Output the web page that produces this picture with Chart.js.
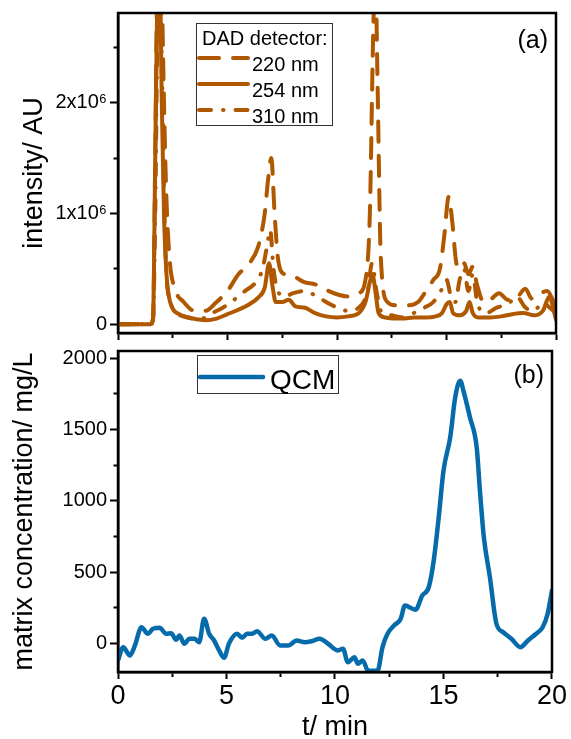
<!DOCTYPE html>
<html>
<head>
<meta charset="utf-8">
<script src="https://cdn.jsdelivr.net/npm/chart.js@4.4.1/dist/chart.umd.min.js"></script>
<style>
  html, body { margin: 0; padding: 0; background: #fff; }
  #wrap { position: relative; width: 571px; height: 739px; }
  .panel { position: absolute; left: 0; width: 571px; }
  #top { top: 0; height: 346px; }
  #bottom { top: 338px; height: 401px; }
</style>
</head>
<body>
<div id="wrap">
  <div class="panel" id="top"><canvas id="dadChart"></canvas></div>
  <div class="panel" id="bottom"><canvas id="qcmChart"></canvas></div>
</div>
<script>
// DAD traces, intensity in units of 10^6 AU
const t220 = [0, 1.5, 1.6, 1.7, 1.8, 1.9, 2.0, 2.1, 2.2, 2.35, 2.6, 3.0, 3.5, 4.0, 4.5, 5.0, 5.5, 6.0, 6.4, 6.7,
  6.85, 7.0, 7.15, 7.3, 7.6, 8.0, 8.5, 9.0, 9.5, 10.0, 10.5, 11.0, 11.3, 11.5, 11.65, 11.75, 11.85, 12.0, 12.3, 12.7,
  13.2, 13.7, 14.0, 14.4, 14.7, 14.9, 15.1, 15.25, 15.45, 15.6, 15.8, 16.0, 16.2, 16.4, 16.7, 17.0, 17.4, 17.8, 18.1, 18.6,
  18.9, 19.3, 19.6, 19.85, 20];
const dad220 = [0, 0, 0.05, 1.5, 3.2, 3.5, 3.0, 2.0, 1.2, 0.6, 0.32, 0.2, 0.12, 0.12, 0.2, 0.3, 0.45, 0.55, 0.7, 1.0,
  1.3, 1.5, 1.0, 0.6, 0.45, 0.43, 0.38, 0.36, 0.31, 0.27, 0.25, 0.28, 0.4, 1.0, 2.6, 3.2, 2.2, 0.6, 0.2, 0.17,
  0.17, 0.2, 0.28, 0.4, 0.5, 0.8, 1.15, 0.95, 0.55, 0.5, 0.55, 0.45, 0.52, 0.35, 0.2, 0.22, 0.28, 0.22, 0.22, 0.32,
  0.23, 0.28, 0.3, 0.22, 0.15];

const t254 = [0, 1.5, 1.6, 1.7, 1.8, 1.9, 2.0, 2.1, 2.2, 2.3, 2.5, 2.8, 3.2, 3.6, 4.0, 4.5, 5.0, 5.5, 6.0, 6.4,
  6.7, 6.9, 7.05, 7.2, 7.5, 7.8, 8.1, 8.5, 9.0, 9.5, 10, 10.5, 11, 11.3, 11.5, 11.62, 11.75, 11.9, 12.2, 12.6,
  13, 13.5, 14, 14.5, 14.8, 15.0, 15.15, 15.3, 15.6, 15.9, 16.05, 16.2, 16.5, 17, 17.5, 18, 18.5, 19, 19.4, 19.7,
  19.9, 20];
const dad254 = [0, 0, 0.05, 1.5, 3.0, 3.2, 2.0, 1.0, 0.5, 0.28, 0.14, 0.09, 0.06, 0.045, 0.035, 0.05, 0.09, 0.13, 0.18, 0.24,
  0.33, 0.55, 0.35, 0.2, 0.2, 0.22, 0.16, 0.15, 0.1, 0.07, 0.06, 0.07, 0.1, 0.2, 0.38, 0.45, 0.3, 0.1, 0.06, 0.05,
  0.05, 0.06, 0.06, 0.07, 0.1, 0.18, 0.2, 0.1, 0.08, 0.12, 0.2, 0.1, 0.06, 0.06, 0.07, 0.09, 0.1, 0.08, 0.12, 0.25,
  0.12, 0.04];

const t310 = [0, 1.5, 1.6, 1.7, 1.8, 1.9, 2.0, 2.1, 2.2, 2.4, 2.7, 3.2, 3.8, 4.3, 4.8, 5.3, 5.8, 6.3, 6.6, 6.8,
  6.95, 7.1, 7.3, 7.6, 8.0, 8.5, 9.0, 9.5, 10, 10.5, 11.0, 11.4, 11.6, 11.8, 12.0, 12.5, 13.0, 13.5, 14, 14.4,
  14.8, 15.0, 15.2, 15.4, 15.6, 15.8, 16.0, 16.2, 16.4, 16.8, 17.3, 17.8, 18.2, 18.6, 19.0, 19.4, 19.7, 20];
const dad310 = [0, 0, 0.05, 1.0, 2.6, 3.0, 2.4, 1.2, 0.5, 0.2, 0.1, 0.06, 0.05, 0.1, 0.15, 0.22, 0.3, 0.38, 0.5, 0.7,
  0.85, 0.5, 0.3, 0.25, 0.28, 0.3, 0.26, 0.2, 0.15, 0.12, 0.15, 0.3, 0.55, 0.3, 0.12, 0.08, 0.06, 0.1, 0.15, 0.2,
  0.32, 0.4, 0.25, 0.2, 0.4, 0.5, 0.3, 0.45, 0.2, 0.1, 0.15, 0.18, 0.25, 0.15, 0.12, 0.2, 0.15, 0.1];

// QCM matrix concentration, mg/L
const tQcm = [0, 0.24, 0.55, 0.78, 1.08, 1.38, 1.61, 1.92, 2.22, 2.45, 2.68, 2.83, 3.06, 3.29, 3.52, 3.74, 3.97, 4.2, 4.43, 4.66,
  4.89, 5.11, 5.49, 5.72, 5.95, 6.18, 6.41, 6.79, 7.09, 7.47, 7.85, 8.23, 8.61, 8.92, 9.3, 9.68, 10.14, 10.37, 10.59, 10.9,
  11.05, 11.28, 11.51, 11.65, 11.96, 12.19, 12.42, 12.72, 13.03, 13.22, 13.71, 14.02, 14.32, 14.55, 14.78, 15.0, 15.31, 15.54, 15.77, 15.92,
  16.22, 16.53, 16.68, 16.86, 17.14, 17.44, 17.75, 18.13, 18.55, 18.89, 19.27, 19.57, 19.8, 20];
const qcm = [-119, -26, -84, -14, 114, 68, 103, 110, 68, 72, 26, 56, -2, 33, 33, 9, 173, 68, 21, -49,
  -100, -2, 68, 40, 68, 68, 86, 33, 56, -14, -14, 21, 9, 16, 33, -2, -49, -37, -131, -96,
  -142, -119, -189, -192, -192, -26, 68, 126, 173, 266, 236, 336, 394, 581, 884, 1211, 1445, 1725, 1842, 1771,
  1585, 1375, 1071, 744, 464, 138, 79, 33, -26, 21, 68, 114, 208, 371];

// tick positions (labelled and unlabelled)
const timeTicks = [0, 2.5, 5, 7.5, 10, 12.5, 15, 17.5, 20];
const dadTicks = [0, 0.5, 1, 1.5, 2, 2.5];
const qcmTicks = [0, 250, 500, 750, 1000, 1250, 1500, 1750, 2000];

const FONT = "'Liberation Sans', Arial, sans-serif";
const ORANGE = '#AF5800';
const BLUE = '#066BAA';

function toPoints(ts, vs) {
  return ts.map((x, i) => ({ x: x, y: vs[i] }));
}

// closed black box round the plot area
const frame = {
  id: 'frame',
  afterDraw(chart) {
    const a = chart.chartArea, ctx = chart.ctx;
    ctx.save();
    ctx.strokeStyle = '#000';
    ctx.lineWidth = 2.5;
    ctx.strokeRect(a.left, a.top, a.right - a.left, a.bottom - a.top);
    ctx.restore();
  }
};

// boxed legend and panel letter inside the plot area
const inset = {
  id: 'inset',
  afterDraw(chart, args, o) {
    const a = chart.chartArea, ctx = chart.ctx;
    ctx.save();
    ctx.fillStyle = '#fff';
    ctx.fillRect(a.left + o.x, a.top + o.y, o.w, o.h);
    ctx.strokeStyle = '#333';
    ctx.lineWidth = 1;
    ctx.strokeRect(a.left + o.x + 0.5, a.top + o.y + 0.5, o.w, o.h);
    ctx.fillStyle = '#000';
    ctx.textBaseline = 'alphabetic';
    ctx.font = o.fontSize + 'px ' + FONT;
    let y = a.top + o.y + o.first;
    if (o.title) {
      ctx.fillText(o.title, a.left + o.x + o.titleX, y);
      y += o.row;
    }
    chart.data.datasets.forEach(ds => {
      ctx.save();
      ctx.strokeStyle = ds.borderColor;
      ctx.lineWidth = ds.borderWidth;
      ctx.lineCap = 'round';
      ctx.setLineDash(ds.borderDash || []);
      ctx.beginPath();
      ctx.moveTo(a.left + o.x + o.sampleX0, y - o.sampleDy);
      ctx.lineTo(a.left + o.x + o.sampleX1, y - o.sampleDy);
      ctx.stroke();
      ctx.restore();
      ctx.fillText(ds.label, a.left + o.x + o.textX, y);
      y += o.row;
    });
    ctx.font = o.letterSize + 'px ' + FONT;
    ctx.textAlign = 'right';
    ctx.fillText(o.letter, a.right - 8, a.top + o.letterY);
    ctx.restore();
  }
};

// shorter marks for the unlabelled ticks
function leftDash(ctx) {
  return (ctx.tick && ctx.tick.major) ? [] : [0, 3.5, 20];
}
function bottomDash(ctx) {
  return (ctx.tick && ctx.tick.major) ? [] : [3.5, 20];
}

function setTicks(values, labelEvery) {
  return scale => {
    scale.ticks = values.map(v => ({
      value: v,
      major: Math.abs(v / labelEvery - Math.round(v / labelEvery)) < 1e-6
    }));
  };
}

function timeAxis(showLabels) {
  return {
    type: 'linear',
    min: 0,
    max: 20,
    afterFit(scale) { scale.height = showLabels ? 67 : 9; },
    afterBuildTicks: setTicks(timeTicks, 5),
    border: { display: true, color: '#000', width: 2.5 },
    grid: {
      display: true, drawOnChartArea: false, drawTicks: true,
      tickLength: 7, tickWidth: 2, tickColor: '#000', tickBorderDash: bottomDash
    },
    ticks: {
      display: showLabels,
      autoSkip: false,
      maxRotation: 0,
      padding: 4,
      color: '#000',
      font: { family: FONT, size: 27, lineHeight: 1 },
      callback: v => (v % 5 === 0 ? String(v) : '')
    },
    title: {
      display: showLabels,
      text: 't/ min',
      color: '#000',
      font: { family: FONT, size: 27, lineHeight: 1 },
      padding: { top: 0, bottom: -2 }
    }
  };
}

function valueAxis(min, max, tickValues, labelEvery, fmt, titleText, titlePad) {
  const isLabelled = v => Math.abs(v / labelEvery - Math.round(v / labelEvery)) < 1e-6;
  return {
    type: 'linear',
    min: min,
    max: max,
    afterFit(scale) { scale.width = 118; },
    afterBuildTicks: setTicks(tickValues, labelEvery),
    border: { display: true, color: '#000', width: 2.5 },
    grid: {
      display: true, drawOnChartArea: false, drawTicks: true,
      tickLength: 8, tickWidth: 2, tickColor: '#000', tickBorderDash: leftDash
    },
    ticks: {
      autoSkip: false,
      padding: 3,
      color: '#000',
      font: { family: FONT, size: 20, lineHeight: 1 },
      callback: v => (isLabelled(v) ? fmt(v) : '')
    },
    title: {
      display: true,
      text: titleText,
      color: '#000',
      font: { family: FONT, size: 27, lineHeight: 1.2 },
      padding: { top: titlePad, bottom: 0 }
    }
  };
}

const lineStyle = {
  pointRadius: 0,
  borderWidth: 4,
  borderCapStyle: 'round',
  borderJoinStyle: 'round',
  cubicInterpolationMode: 'monotone',
  fill: false
};

new Chart(document.getElementById('dadChart'), {
  type: 'line',
  data: {
    datasets: [
      Object.assign({ label: '220 nm', data: toPoints(t220, dad220), borderColor: ORANGE, borderDash: [20, 14] }, lineStyle),
      Object.assign({ label: '254 nm', data: toPoints(t254, dad254), borderColor: ORANGE }, lineStyle),
      Object.assign({ label: '310 nm', data: toPoints(t310, dad310), borderColor: ORANGE, borderDash: [12, 12, 0.5, 12] }, lineStyle)
    ]
  },
  options: {
    responsive: true,
    maintainAspectRatio: false,
    animation: false,
    layout: { padding: { top: 13, right: 15, left: 0, bottom: 0 } },
    plugins: {
      legend: { display: false },
      tooltip: { enabled: false },
      inset: {
        x: 78, y: 10, w: 136, h: 102,
        fontSize: 20, title: 'DAD detector:', titleX: 6, first: 22, row: 26,
        sampleX0: 3, sampleX1: 52, sampleDy: 13, textX: 56,
        letter: '(a)', letterSize: 25, letterY: 35
      }
    },
    scales: {
      x: timeAxis(false),
      y: valueAxis(-0.08, 2.81, dadTicks, 1, v => (v === 0 ? '0' : v + 'x10\u2076'), 'intensity/ AU', 18)
    }
  },
  plugins: [frame, inset]
});

new Chart(document.getElementById('qcmChart'), {
  type: 'line',
  data: {
    datasets: [
      Object.assign({ label: 'QCM', data: toPoints(tQcm, qcm), borderColor: BLUE }, lineStyle, { borderWidth: 4.5 })
    ]
  },
  options: {
    responsive: true,
    maintainAspectRatio: false,
    animation: false,
    layout: { padding: { top: 13, right: 15, left: 0, bottom: 0 } },
    plugins: {
      legend: { display: false },
      tooltip: { enabled: false },
      inset: {
        x: 79, y: 4, w: 141, h: 38,
        fontSize: 28, title: null, first: 34, row: 30,
        sampleX0: 3, sampleX1: 66, sampleDy: 12, textX: 73,
        letter: '(b)', letterSize: 25, letterY: 32
      }
    },
    scales: {
      x: timeAxis(true),
      y: valueAxis(-200, 2050, qcmTicks, 500, v => String(v), 'matrix concentration/ mg/L', 8)
    }
  },
  plugins: [frame, inset]
});
</script>
</body>
</html>
